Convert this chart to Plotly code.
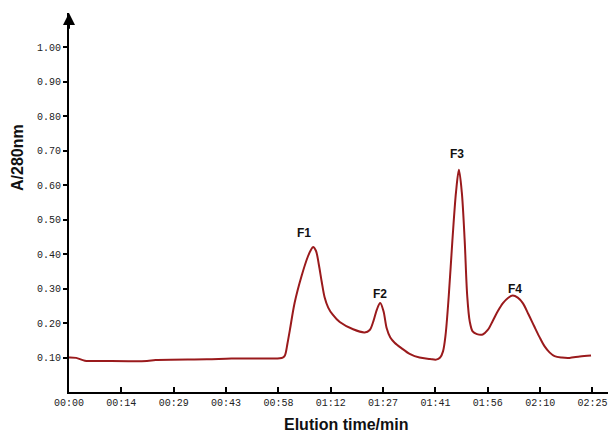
import plotly.graph_objects as go

# Elution time (min) and absorbance at 280 nm
time_min = [0, 2, 4.4, 10, 21.6, 24, 38.2, 45, 58.4, 59.2, 59.8, 60.5, 61.2, 62.5, 64.4, 66.2,
            67.0, 67.6, 68.4, 69.2, 70.0, 70.8, 71.8, 73.0, 75.0, 78.7, 81.9, 83.3, 84.3, 85.3,
            86.2, 87.1, 88.0, 89.0, 90.2, 92.0, 94.5, 97.1, 100.0, 101.7, 102.8, 103.6, 104.3,
            105.2, 106.2, 107.2, 108.0, 108.8, 109.6, 110.3, 111.0, 111.8, 113.0, 114.6, 116.0,
            117.4, 118.8, 120.2, 121.6, 122.9, 124.3, 125.7, 127.3, 128.9, 130.3, 131.7, 133.1,
            134.5, 136.5, 138.6, 141.5, 144.6]
absorbance = [0.100, 0.099, 0.091, 0.090, 0.090, 0.093, 0.095, 0.097, 0.098, 0.100, 0.106,
              0.140, 0.181, 0.259, 0.336, 0.394, 0.412, 0.421, 0.410, 0.370, 0.320, 0.275,
              0.245, 0.225, 0.203, 0.182, 0.173, 0.180, 0.205, 0.240, 0.258, 0.235, 0.185,
              0.158, 0.143, 0.128, 0.110, 0.100, 0.096, 0.094, 0.100, 0.118, 0.165, 0.280,
              0.440, 0.580, 0.645, 0.580, 0.440, 0.280, 0.205, 0.176, 0.168, 0.167, 0.180,
              0.207, 0.235, 0.258, 0.273, 0.280, 0.274, 0.258, 0.225, 0.190, 0.160, 0.133,
              0.115, 0.104, 0.100, 0.099, 0.103, 0.106]

x_tick_vals = [0, 14.5, 29, 43.5, 58, 72.5, 87, 101.5, 116, 130.5, 145]
x_tick_text = ["00:00", "00:14", "00:29", "00:43", "00:58", "01:12", "01:27",
               "01:41", "01:56", "02:10", "02:25"]
y_tick_vals = [0.1, 0.2, 0.3, 0.4, 0.5, 0.6, 0.7, 0.8, 0.9, 1.0]
y_tick_text = ["0.10", "0.20", "0.30", "0.40", "0.50", "0.60", "0.70", "0.80", "0.90", "1.00"]

peak_names = ["F1", "F2", "F3", "F4"]
peak_x = [65.0, 86.1, 107.4, 123.4]
peak_y = [0.462, 0.283, 0.691, 0.300]

fig = go.Figure()
fig.add_trace(go.Scatter(
    x=time_min, y=absorbance, mode="lines",
    line=dict(color="#9a1a1c", width=2, shape="spline", smoothing=0.9),
    hoverinfo="skip", showlegend=False))

annotations = []
for name, px, py in zip(peak_names, peak_x, peak_y):
    annotations.append(dict(x=px, y=py, xref="x", yref="y", text="<b>%s</b>" % name,
                            showarrow=False,
                            font=dict(family="Liberation Sans, Arial", size=12, color="#111")))
# arrow at top of y axis
annotations.append(dict(x=0, y=1.1, xref="x", yref="y", ax=0, ay=1.05, axref="x", ayref="y",
                        text="", showarrow=True, arrowhead=2, arrowsize=1.2, arrowwidth=2,
                        arrowcolor="black"))
# axis titles (pixel positions converted to paper coords below)
annotations.append(dict(x=346, y=10, xref="paper", yref="paper", xanchor="center",
                        yanchor="middle", text="<b>Elution time/min</b>", showarrow=False,
                        font=dict(family="Liberation Sans, Arial", size=16, color="#111")))
annotations.append(dict(x=18, y=276, xref="paper", yref="paper", xanchor="center",
                        yanchor="middle", text="<b>A/280nm</b>", showarrow=False, textangle=-90,
                        font=dict(family="Liberation Sans, Arial", size=16, color="#111")))
L, R, T, B = 69, 2, 13, 42
W, H = 610, 434
pw, ph = W - L - R, H - T - B
for a in annotations[-2:]:
    a["x"] = (a["x"] - L) / pw
    a["y"] = (a["y"] - B) / ph

fig.update_layout(
    width=W, height=H,
    margin=dict(l=L, r=R, t=T, b=B),
    paper_bgcolor="white", plot_bgcolor="white",
    annotations=annotations,
    xaxis=dict(range=[0, 149.3], tickvals=x_tick_vals, ticktext=x_tick_text,
               ticks="inside", ticklen=5, tickwidth=1.5, tickcolor="black",
               showline=True, linecolor="black", linewidth=2, showgrid=False, zeroline=False,
               tickfont=dict(family="Liberation Mono, DejaVu Sans Mono", size=10, color="#222")),
    yaxis=dict(range=[0, 1.1], tickvals=y_tick_vals, ticktext=y_tick_text,
               ticks="outside", ticklen=4, tickwidth=1.5, tickcolor="black",
               showline=True, linecolor="black", linewidth=2, showgrid=False, zeroline=False,
               tickfont=dict(family="Liberation Mono, DejaVu Sans Mono", size=10, color="#222")),
)

fig.write_html("out.html")
